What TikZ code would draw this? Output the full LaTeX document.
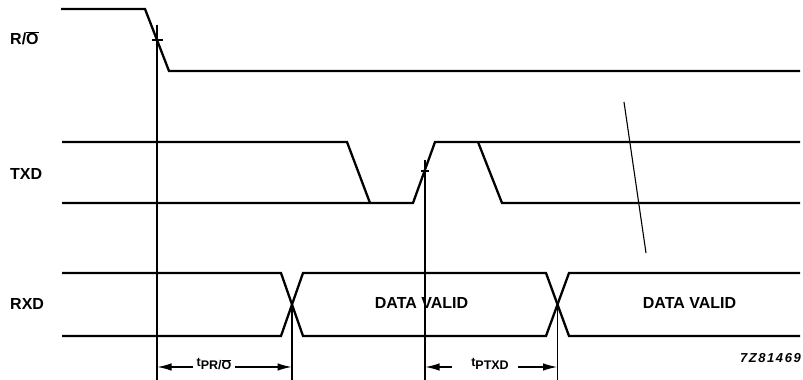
\documentclass[tikz,border=0pt]{standalone}
\usepackage{fontspec}
\setmainfont{Liberation Sans}
\usetikzlibrary{arrows.meta}
\newcommand\ovbar[1]{$\overline{\hbox{#1}}$}
\begin{document}
\begin{tikzpicture}[x=1pt,y=1pt,
 sig/.style={line width=2.3pt, line join=miter},
 thinline/.style={line width=1.1pt},
 dimarrow/.style={line width=1.1pt, -{Latex[length=14pt,width=7.5pt]}},
 lbl/.style={font=\fontsize{16}{16}\selectfont\bfseries, inner sep=0pt},
 sublbl/.style={font=\fontsize{12.5}{12.5}\selectfont\bfseries, inner sep=0pt, anchor=base},
 ]
\useasboundingbox (0,0) rectangle (803,380);

% labels
\node[lbl, anchor=base west] (lro) at (10,335) {R/\ovbar{O}};
\node[lbl, anchor=base west] (ltxd) at (10,200) {TXD};
\node[lbl, anchor=base west] (lrxd) at (10,70) {RXD};

% R/O
\coordinate (ro0) at (61,371);
\coordinate (ro1) at (145,371);
\coordinate (ro2) at (169,309);
\coordinate (ro3) at (800,309);
\draw[sig] (ro0) -- (ro1) -- (ro2) -- (ro3);
\coordinate (v1top) at (157,355);
\coordinate (v1bot) at (157,0);
\draw[thinline] (v1top) -- (v1bot);
\draw[thinline] (152,340) -- (163,340);

% TXD
\draw[sig] (62,238) -- (347,238) -- (370,177);
\draw[sig] (62,177) -- (413,177) -- (435,238) -- (800,238);
\draw[sig] (478,238) -- (502,177) -- (800,177);
\coordinate (v2top) at (425,220);
\coordinate (v2bot) at (425,0);
\draw[thinline] (v2top) -- (v2bot);
\draw[thinline] (421,209) -- (429,209);

% slanted break mark
\draw[thinline] (624,278) -- (646,127);

% RXD
\draw[sig] (62,107) -- (281,107) -- (303,44) -- (546,44) -- (569,107) -- (800,107);
\draw[sig] (62,44) -- (281,44) -- (303,107) -- (546,107) -- (569,44) -- (800,44);
\coordinate (x1) at (292,75.5);
\coordinate (x1b) at (292,0);
\coordinate (x2) at (557.5,75.5);
\coordinate (x2b) at (557.5,0);
\draw[thinline] (x1) -- (x1b);
\draw[thinline] (x2) -- (x2b);

\node[lbl, anchor=base] (dv1) at (421.5,71) {DATA VALID};
\node[lbl, anchor=base] (dv2) at (689.5,71) {DATA VALID};

% timing dimensions
\coordinate (d1) at (157.5,13);
\coordinate (d2) at (291.5,13);
\node[sublbl] (t1) at (214,13) {t\raisebox{-3pt}{PR/\ovbar{O}}};
\coordinate (t1a) at (193,13);
\coordinate (t1b) at (235,13);
\draw[dimarrow] (t1a) -- (d1);
\draw[dimarrow] (t1b) -- (d2);

\coordinate (d3) at (425.5,13);
\coordinate (d4) at (557,13);
\node[sublbl] (t2) at (490,13) {t\raisebox{-3pt}{PTXD}};
\coordinate (t2a) at (452,13);
\coordinate (t2b) at (518,13);
\draw[dimarrow] (t2a) -- (d3);
\draw[dimarrow] (t2b) -- (d4);

\node[font=\fontsize{13}{13}\selectfont\bfseries\itshape\addfontfeatures{LetterSpace=12}, inner sep=0pt, anchor=base east] (code) at (801,17) {7Z81469};
\end{tikzpicture}
\end{document}
